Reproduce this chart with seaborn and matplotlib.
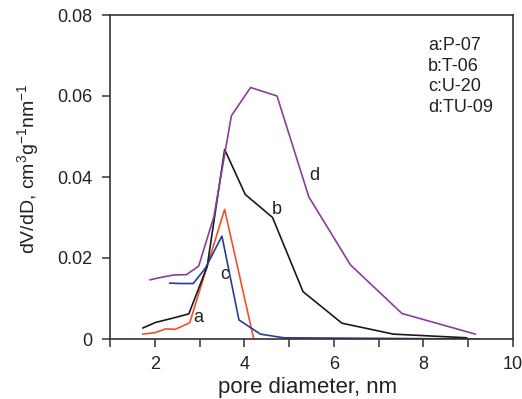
import matplotlib
matplotlib.use("Agg")
import matplotlib.pyplot as plt
import seaborn as sns
import pandas as pd
from matplotlib.ticker import MultipleLocator

# ---- data ----
a_x = [1.73, 2.02, 2.24, 2.46, 2.78, 3.56, 4.21]
a_y = [0.0012, 0.0016, 0.0025, 0.0024, 0.0040, 0.0320, 0.0000]

b_x = [1.73, 2.02, 2.42, 2.76, 3.17, 3.56, 4.02, 4.63, 5.31, 6.18, 7.33, 8.97]
b_y = [0.0027, 0.0041, 0.0052, 0.0062, 0.0179, 0.0468, 0.0357, 0.0300, 0.0117, 0.0039, 0.0012, 0.0003]

c_x = [2.33, 2.57, 2.86, 3.13, 3.50, 3.88, 4.36, 4.88, 9.23]
c_y = [0.0138, 0.0137, 0.0137, 0.0175, 0.0254, 0.0047, 0.0012, 0.0003, 0.0000]

d_x = [1.89, 2.13, 2.42, 2.71, 2.98, 3.32, 3.71, 4.14, 4.73, 5.44, 6.37, 7.52, 9.16]
d_y = [0.0146, 0.0152, 0.0158, 0.0159, 0.0180, 0.0302, 0.0551, 0.0621, 0.0600, 0.0351, 0.0183, 0.0063, 0.0012]

series_names = ["a", "b", "c", "d"]
legend_lines = ["a:P-07", "b:T-06", "c:U-20", "d:TU-09"]
label_pos = {"a": (2.98, 0.0054), "b": (4.73, 0.032), "c": (3.56, 0.016), "d": (5.56, 0.0403)}
colors = {"a": "#F0502A", "b": "#1A1A1A", "c": "#2A3A9A", "d": "#8B3C9C"}

xs = {"a": a_x, "b": b_x, "c": c_x, "d": d_x}
ys = {"a": a_y, "b": b_y, "c": c_y, "d": d_y}
rows = []
for s in series_names:
    for x, y in zip(xs[s], ys[s]):
        rows.append({"sample": s, "D": x, "dVdD": y})
df = pd.DataFrame(rows)

# ---- style ----
sns.set_style("ticks")
plt.rcParams["font.family"] = ["Liberation Sans", "DejaVu Sans"]
plt.rcParams["mathtext.fontset"] = "custom"
plt.rcParams["mathtext.rm"] = "Liberation Sans"
plt.rcParams["mathtext.it"] = "Liberation Sans"

fig = plt.figure(figsize=(5.22, 3.99), dpi=100)
ax = fig.add_axes([110 / 522, 60 / 399, 403 / 522, 324 / 399])

sns.lineplot(data=df, x="D", y="dVdD", hue="sample", palette=colors, sort=False,
             estimator=None, legend=False, linewidth=1.2, ax=ax)

ax.set_xlim(1, 10)
ax.set_ylim(0, 0.08)
ax.xaxis.set_major_locator(MultipleLocator(2))
ax.xaxis.set_minor_locator(MultipleLocator(1))
ax.set_yticks([0, 0.02, 0.04, 0.06, 0.08])
ax.set_yticklabels(["0", "0.02", "0.04", "0.06", "0.08"])

spine_c = "#333333"
for sp in ax.spines.values():
    sp.set_color(spine_c)
    sp.set_linewidth(1.2)
ax.tick_params(axis="both", which="both", direction="out", length=5.5, width=1.1,
               color=spine_c, labelsize=13, labelcolor="#222222")
ax.tick_params(axis="x", which="both", pad=6.5)
ax.tick_params(axis="y", which="both", pad=7)

ax.set_xlabel("pore diameter, nm", fontsize=16, color="#222222")
ax.xaxis.set_label_coords(0.489, -0.118)
ax.set_ylabel(r"dV/dD, cm$^{3}$g$^{-1}$nm$^{-1}$", fontsize=14, color="#222222")
ax.yaxis.set_label_coords(-0.172, 0.525)

for s in series_names:
    x, y = label_pos[s]
    ax.text(x, y, s, fontsize=13, ha="center", va="center", color="#222222")

for i, t in enumerate(legend_lines):
    ax.text(0.789, 0.892 - i * 0.0637, t, transform=ax.transAxes, fontsize=13,
            ha="left", va="baseline", color="#222222")

fig.savefig("out.png", dpi=100)
